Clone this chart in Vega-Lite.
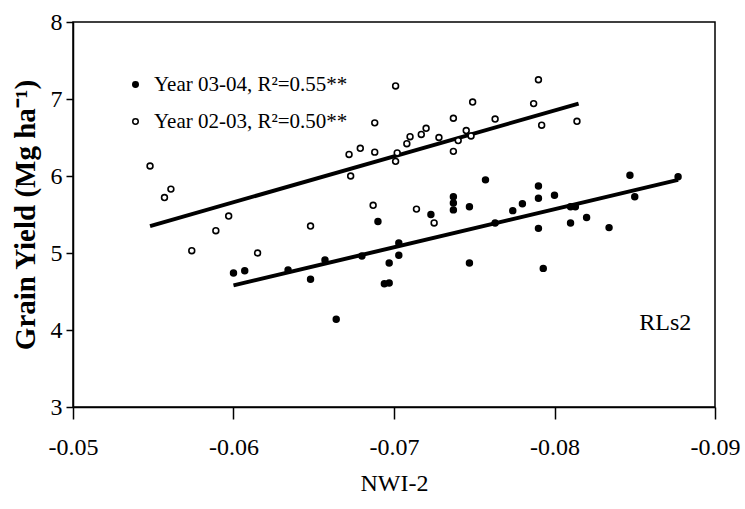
{
  "$schema": "https://vega.github.io/schema/vega-lite/v6.json",
  "width": 642,
  "height": 385,
  "autosize": "none",
  "padding": {"left": 73, "top": 22, "right": 30, "bottom": 102},
  "background": "white",
  "config": {
    "view": {"stroke": "black", "strokeWidth": 1.5},
    "font": "Liberation Serif",
    "axis": {"grid": false, "domainColor": "black", "tickColor": "black", "domainWidth": 1.5, "tickWidth": 1.5, "labelColor": "black", "titleColor": "black", "labelFont": "Liberation Serif", "titleFont": "Liberation Serif"}
  },
  "datasets": {
    "pts": [
      {"nwi": -0.0548, "gy": 6.13, "year": "Year 02-03, R²=0.50**"},
      {"nwi": -0.0557, "gy": 5.72, "year": "Year 02-03, R²=0.50**"},
      {"nwi": -0.0561, "gy": 5.83, "year": "Year 02-03, R²=0.50**"},
      {"nwi": -0.0574, "gy": 5.03, "year": "Year 02-03, R²=0.50**"},
      {"nwi": -0.0589, "gy": 5.29, "year": "Year 02-03, R²=0.50**"},
      {"nwi": -0.0597, "gy": 5.48, "year": "Year 02-03, R²=0.50**"},
      {"nwi": -0.0615, "gy": 5.00, "year": "Year 02-03, R²=0.50**"},
      {"nwi": -0.0648, "gy": 5.35, "year": "Year 02-03, R²=0.50**"},
      {"nwi": -0.0672, "gy": 6.28, "year": "Year 02-03, R²=0.50**"},
      {"nwi": -0.0679, "gy": 6.36, "year": "Year 02-03, R²=0.50**"},
      {"nwi": -0.0673, "gy": 6.00, "year": "Year 02-03, R²=0.50**"},
      {"nwi": -0.0688, "gy": 6.69, "year": "Year 02-03, R²=0.50**"},
      {"nwi": -0.0688, "gy": 6.31, "year": "Year 02-03, R²=0.50**"},
      {"nwi": -0.0687, "gy": 5.62, "year": "Year 02-03, R²=0.50**"},
      {"nwi": -0.0701, "gy": 7.17, "year": "Year 02-03, R²=0.50**"},
      {"nwi": -0.0701, "gy": 6.19, "year": "Year 02-03, R²=0.50**"},
      {"nwi": -0.0702, "gy": 6.30, "year": "Year 02-03, R²=0.50**"},
      {"nwi": -0.0708, "gy": 6.42, "year": "Year 02-03, R²=0.50**"},
      {"nwi": -0.0710, "gy": 6.51, "year": "Year 02-03, R²=0.50**"},
      {"nwi": -0.0714, "gy": 5.57, "year": "Year 02-03, R²=0.50**"},
      {"nwi": -0.0717, "gy": 6.54, "year": "Year 02-03, R²=0.50**"},
      {"nwi": -0.0720, "gy": 6.62, "year": "Year 02-03, R²=0.50**"},
      {"nwi": -0.0725, "gy": 5.39, "year": "Year 02-03, R²=0.50**"},
      {"nwi": -0.0728, "gy": 6.50, "year": "Year 02-03, R²=0.50**"},
      {"nwi": -0.0737, "gy": 6.32, "year": "Year 02-03, R²=0.50**"},
      {"nwi": -0.0737, "gy": 6.75, "year": "Year 02-03, R²=0.50**"},
      {"nwi": -0.0740, "gy": 6.46, "year": "Year 02-03, R²=0.50**"},
      {"nwi": -0.0745, "gy": 6.59, "year": "Year 02-03, R²=0.50**"},
      {"nwi": -0.0748, "gy": 6.52, "year": "Year 02-03, R²=0.50**"},
      {"nwi": -0.0749, "gy": 6.96, "year": "Year 02-03, R²=0.50**"},
      {"nwi": -0.0763, "gy": 6.74, "year": "Year 02-03, R²=0.50**"},
      {"nwi": -0.0787, "gy": 6.94, "year": "Year 02-03, R²=0.50**"},
      {"nwi": -0.0790, "gy": 7.25, "year": "Year 02-03, R²=0.50**"},
      {"nwi": -0.0792, "gy": 6.66, "year": "Year 02-03, R²=0.50**"},
      {"nwi": -0.0814, "gy": 6.71, "year": "Year 02-03, R²=0.50**"},
      {"nwi": -0.0600, "gy": 4.74, "year": "Year 03-04, R²=0.55**"},
      {"nwi": -0.0607, "gy": 4.77, "year": "Year 03-04, R²=0.55**"},
      {"nwi": -0.0634, "gy": 4.78, "year": "Year 03-04, R²=0.55**"},
      {"nwi": -0.0648, "gy": 4.66, "year": "Year 03-04, R²=0.55**"},
      {"nwi": -0.0657, "gy": 4.91, "year": "Year 03-04, R²=0.55**"},
      {"nwi": -0.0664, "gy": 4.14, "year": "Year 03-04, R²=0.55**"},
      {"nwi": -0.0680, "gy": 4.96, "year": "Year 03-04, R²=0.55**"},
      {"nwi": -0.0690, "gy": 5.41, "year": "Year 03-04, R²=0.55**"},
      {"nwi": -0.0694, "gy": 4.60, "year": "Year 03-04, R²=0.55**"},
      {"nwi": -0.0697, "gy": 4.61, "year": "Year 03-04, R²=0.55**"},
      {"nwi": -0.0697, "gy": 4.87, "year": "Year 03-04, R²=0.55**"},
      {"nwi": -0.0703, "gy": 5.13, "year": "Year 03-04, R²=0.55**"},
      {"nwi": -0.0703, "gy": 4.97, "year": "Year 03-04, R²=0.55**"},
      {"nwi": -0.0723, "gy": 5.50, "year": "Year 03-04, R²=0.55**"},
      {"nwi": -0.0737, "gy": 5.73, "year": "Year 03-04, R²=0.55**"},
      {"nwi": -0.0737, "gy": 5.65, "year": "Year 03-04, R²=0.55**"},
      {"nwi": -0.0737, "gy": 5.56, "year": "Year 03-04, R²=0.55**"},
      {"nwi": -0.0747, "gy": 5.60, "year": "Year 03-04, R²=0.55**"},
      {"nwi": -0.0747, "gy": 4.87, "year": "Year 03-04, R²=0.55**"},
      {"nwi": -0.0757, "gy": 5.95, "year": "Year 03-04, R²=0.55**"},
      {"nwi": -0.0763, "gy": 5.39, "year": "Year 03-04, R²=0.55**"},
      {"nwi": -0.0774, "gy": 5.55, "year": "Year 03-04, R²=0.55**"},
      {"nwi": -0.0780, "gy": 5.64, "year": "Year 03-04, R²=0.55**"},
      {"nwi": -0.0790, "gy": 5.87, "year": "Year 03-04, R²=0.55**"},
      {"nwi": -0.0790, "gy": 5.71, "year": "Year 03-04, R²=0.55**"},
      {"nwi": -0.0790, "gy": 5.32, "year": "Year 03-04, R²=0.55**"},
      {"nwi": -0.0793, "gy": 4.80, "year": "Year 03-04, R²=0.55**"},
      {"nwi": -0.0800, "gy": 5.75, "year": "Year 03-04, R²=0.55**"},
      {"nwi": -0.0810, "gy": 5.60, "year": "Year 03-04, R²=0.55**"},
      {"nwi": -0.0813, "gy": 5.60, "year": "Year 03-04, R²=0.55**"},
      {"nwi": -0.0810, "gy": 5.39, "year": "Year 03-04, R²=0.55**"},
      {"nwi": -0.0820, "gy": 5.46, "year": "Year 03-04, R²=0.55**"},
      {"nwi": -0.0834, "gy": 5.33, "year": "Year 03-04, R²=0.55**"},
      {"nwi": -0.0847, "gy": 6.01, "year": "Year 03-04, R²=0.55**"},
      {"nwi": -0.0850, "gy": 5.73, "year": "Year 03-04, R²=0.55**"},
      {"nwi": -0.0877, "gy": 5.99, "year": "Year 03-04, R²=0.55**"}
    ],
    "fits": [
      {"nwi": -0.0600, "gy": 4.58, "year": "Year 03-04, R²=0.55**"},
      {"nwi": -0.0877, "gy": 5.95, "year": "Year 03-04, R²=0.55**"},
      {"nwi": -0.0548, "gy": 5.35, "year": "Year 02-03, R²=0.50**"},
      {"nwi": -0.0815, "gy": 6.94, "year": "Year 02-03, R²=0.50**"}
    ],
    "notes": [
      {"nwi": -0.0869, "gy": 4.09, "label": "RLs2"}
    ]
  },
  "encoding": {
    "x": {"field": "nwi", "type": "quantitative",
      "scale": {"domain": [-0.09, -0.05], "reverse": true, "nice": false, "zero": false},
      "axis": {"values": [-0.05, -0.06, -0.07, -0.08, -0.09], "labelExpr": "replace(format(datum.value, '.2f'), '\u2212', '-')",
        "tickSize": 12, "labelFontSize": 24, "labelPadding": 16, "labelFlush": false, "labelBound": false, "labelOverlap": false,
        "title": "NWI-2", "titleFontSize": 24, "titleFontWeight": "normal", "titlePadding": 12}},
    "y": {"field": "gy", "type": "quantitative",
      "scale": {"domain": [3, 8], "nice": false, "zero": false},
      "axis": {"values": [3, 4, 5, 6, 7, 8], "tickSize": 7, "labelFontSize": 24, "labelPadding": 4, "labelFlush": false,
        "title": "Grain Yield (Mg ha⁻¹)", "titleFontSize": 29, "titleFontWeight": "bold", "titlePadding": 10}}
  },
  "layer": [
    {
      "data": {"name": "fits"},
      "mark": {"type": "line", "color": "black", "strokeWidth": 4},
      "encoding": {"detail": {"field": "year"}}
    },
    {
      "data": {"name": "pts"},
      "mark": {"type": "point", "filled": true, "stroke": "black", "strokeWidth": 1.6, "size": 34, "opacity": 1},
      "encoding": {
        "fill": {"field": "year", "type": "nominal",
          "scale": {"domain": ["Year 03-04, R²=0.55**", "Year 02-03, R²=0.50**"], "range": ["black", "white"]},
          "legend": {"title": null, "orient": "none", "legendX": 52, "legendY": 52, "labelFontSize": 21, "labelFont": "Liberation Serif", "labelColor": "black", "labelLimit": 500,
            "symbolStrokeColor": "black", "symbolStrokeWidth": 1.5, "symbolSize": 30, "symbolType": "circle", "rowPadding": 15, "labelOffset": 8}}
      }
    },
    {
      "data": {"name": "notes"},
      "mark": {"type": "text", "fontSize": 24, "font": "Liberation Serif", "color": "black"},
      "encoding": {"text": {"field": "label"}}
    }
  ]
}
